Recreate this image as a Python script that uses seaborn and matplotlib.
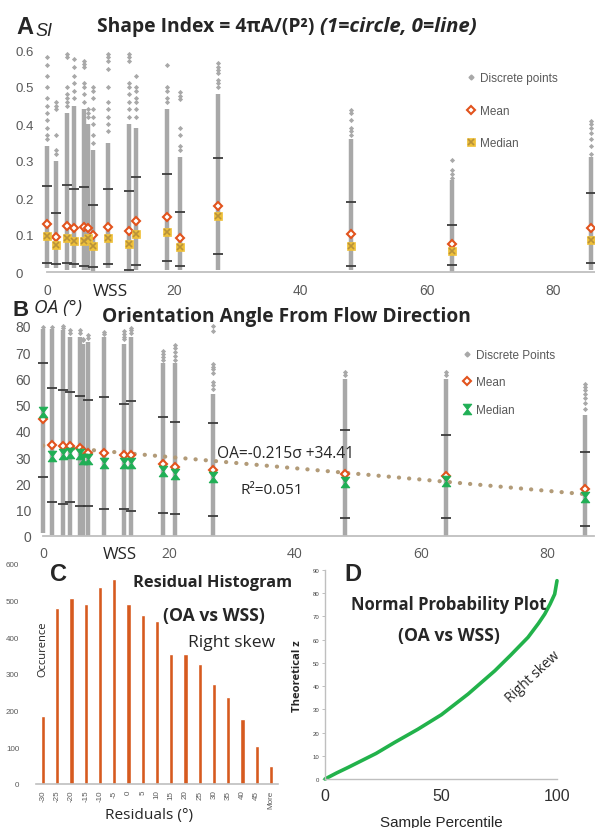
import numpy as np
import pandas as pd
import matplotlib
matplotlib.use("Agg")
import matplotlib.pyplot as plt
import seaborn as sns
from matplotlib.path import Path
from matplotlib.lines import Line2D

# ---------------- data ----------------
WSS = [0.0, 1.4, 3.2, 4.3, 5.8, 6.4, 7.2, 9.7, 12.9, 14.0, 19.0, 21.0, 27.0, 48.0, 64.0, 86.0]

# Panel A : shape index
SI_MIN = [0.01, 0.01, 0.005, 0.01, 0.005, 0.005, 0.0, 0.01, 0.0, 0.005, 0.005, 0.005, 0.005, 0.005, 0.0, 0.005]
SI_DENSE_TOP = [0.34, 0.30, 0.43, 0.45, 0.44, 0.40, 0.33, 0.35, 0.40, 0.39, 0.44, 0.31, 0.48, 0.36, 0.25, 0.31]
SI_SPARSE = [
    [0.58, 0.56, 0.53, 0.50, 0.47, 0.45, 0.43, 0.41, 0.39, 0.37, 0.36],
    [0.46, 0.45, 0.44, 0.37, 0.33, 0.32],
    [0.59, 0.58, 0.50, 0.48, 0.47, 0.46, 0.45],
    [0.576, 0.555, 0.53, 0.51, 0.49, 0.47],
    [0.571, 0.563, 0.555, 0.51, 0.50, 0.48, 0.46],
    [0.44, 0.43, 0.42],
    [0.50, 0.49, 0.47, 0.44, 0.42, 0.40, 0.37, 0.35],
    [0.589, 0.58, 0.57, 0.55, 0.50, 0.46, 0.44, 0.42, 0.40, 0.38],
    [0.589, 0.58, 0.57, 0.51, 0.50, 0.48, 0.46, 0.44, 0.42],
    [0.53, 0.50, 0.49, 0.47, 0.46, 0.44, 0.42],
    [0.56, 0.50, 0.49, 0.47, 0.46],
    [0.486, 0.477, 0.468, 0.39, 0.37, 0.34, 0.33],
    [0.564, 0.555, 0.547, 0.537, 0.52, 0.51, 0.50],
    [0.439, 0.43, 0.41, 0.39, 0.38, 0.37],
    [0.304, 0.275, 0.265, 0.255],
    [0.409, 0.40, 0.39, 0.375, 0.36, 0.34, 0.32],
]
SI_UPPER = [0.233, 0.160, 0.235, 0.223, 0.229, np.nan, 0.180, 0.223, 0.220, 0.256, 0.265, 0.161, 0.308, 0.188, 0.127, 0.213]
SI_LOWER = [0.024, 0.021, 0.025, 0.022, 0.017, np.nan, 0.014, 0.021, 0.006, 0.019, 0.030, 0.017, 0.050, 0.017, 0.019, 0.024]
SI_MEAN = [0.130, 0.094, 0.125, 0.119, 0.122, 0.118, 0.099, 0.122, 0.112, 0.139, 0.150, 0.091, 0.179, 0.103, 0.075, 0.120]
SI_MEDIAN = [0.096, 0.073, 0.091, 0.085, 0.085, 0.091, 0.071, 0.091, 0.077, 0.103, 0.107, 0.068, 0.152, 0.071, 0.056, 0.086]
SI_TICKS = [0, 0.1, 0.2, 0.3, 0.4, 0.5, 0.6]
SI_TICKLABELS = ["0", "0.1", "0.2", "0.3", "0.4", "0.5", "0.6"]

# Panel B : orientation angle
OA_MIN = [1.0, 0.5, 0, 0, 0, 0, 0, 0, 0, 0, 0, 0, 0, 0, 0, 0]
OA_DENSE_TOP = [79, 79, 78.5, 76, 76, 73, 74, 76, 73, 76, 66, 66, 54, 60, 60, 46]
OA_SPARSE = [
    [79.6], [79.6], [80, 79.2], [78.4, 77.5], [78.4, 77.5], [75.2, 74.5], [76.5, 75.5],
    [77.8, 77], [78, 77, 76, 75], [79.1, 78.3, 77.5], [70.6, 69.4, 68.2, 67.2],
    [72.7, 71.5, 70.2, 68.5, 67.2], [80, 78, 65.5, 64.5, 63.5, 62, 58.5, 57.5, 56],
    [62.6, 61.5], [62.3, 61.3], [57.9, 56.8, 55.5, 54.2, 52.5, 50.5, 48.5],
]
OA_UPPER = [65.9, 56.4, 55.5, 54.9, 53.3, np.nan, 52.0, 52.9, 50.3, 51.6, 45.5, 43.3, 43.0, 40.4, 38.5, 31.9]
OA_LOWER = [22.3, 13.1, 12.2, 12.8, 11.6, np.nan, 11.6, 10.1, 10.1, 9.7, 8.7, 8.4, 7.5, 6.9, 6.9, 3.9]
OA_MEAN = [44.6, 34.8, 34.4, 34.4, 33.5, 32.5, 31.8, 31.8, 30.8, 30.8, 27.4, 26.1, 25.3, 23.8, 22.9, 17.9]
OA_MEDIAN = [47.1, 30.6, 31.2, 31.8, 31.2, 29.3, 29.3, 27.7, 28.0, 28.0, 24.8, 23.5, 22.4, 20.7, 21.0, 14.7]
FIT_SLOPE = -0.215
FIT_INTERCEPT = 34.41
OA_TICKS = [0, 10, 20, 30, 40, 50, 60, 70, 80]
WSS_TICKS = [0, 20, 40, 60, 80]

# Panel C : residual histogram
RES_BINS = ["-30", "-25", "-20", "-15", "-10", "-5", "0", "5", "10", "15", "20", "25", "30", "35", "40", "45", "More"]
RES_COUNT = [185, 480, 508, 490, 538, 558, 490, 460, 445, 355, 355, 327, 272, 238, 178, 105, 48]

# Panel D : normal probability plot
PCT = [0, 5, 10, 15.8, 22, 30.1, 40, 50.2, 61.7, 73.2, 80, 87.5, 92, 94.7, 97, 99, 100]
THEO_Z = [0, 2.6, 5.0, 7.9, 11.0, 15.8, 21.4, 27.7, 36.6, 46.6, 53.3, 61.0, 67.0, 71.0, 75.3, 79.6, 85.4]

# ---------------- style ----------------
sns.set_theme(style="white")
plt.rcParams["font.family"] = ["Open Sans", "DejaVu Sans"]

GRAY = "#A8A8A8"
DASH = "#3C3C3C"
RED = "#E2531D"
GOLD = "#EFC038"
GOLD_X = "#B8923A"
GREEN = "#1FAF55"
DGREEN = "#22B24B"
BAR = "#D65A1F"
TAN = "#B29B78"
TICKC = "#595959"
SPINE = "#BFBFBF"
ARIAL = ["Liberation Sans", "DejaVu Sans"]

W, H = 595, 829
fig = plt.figure(figsize=(W / 100, H / 100), dpi=100)
renderer = fig.canvas.get_renderer()


def ax_px(l, t, r, b):
    return fig.add_axes([l / W, 1 - b / H, (r - l) / W, (b - t) / H])


def fit(x0, x1, yc, s, **kw):
    t = fig.text(x0 / W, 1 - yc / H, s, ha="left", va="center", fontsize=10, **kw)
    bb = t.get_window_extent(renderer)
    t.set_fontsize(10 * (x1 - x0) / bb.width)
    return t


def fit_v(xc, y0, y1, s, **kw):
    t = fig.text(xc / W, 1 - (y0 + y1) / 2 / H, s, ha="center", va="center",
                 rotation=90, fontsize=10, **kw)
    bb = t.get_window_extent(renderer)
    t.set_fontsize(10 * (y1 - y0) / bb.height)
    return t


def letter(x, yc, s, size):
    return fig.text(x / W, 1 - yc / H, s, ha="left", va="center", fontsize=size,
                    fontweight="bold", family=ARIAL)


def sparse_frame(xs, lists, name):
    rows = [(x, v) for x, vals in zip(xs, lists) for v in vals]
    return pd.DataFrame(rows, columns=["WSS", name])


hourglass = Path([(-0.8, 1), (0.8, 1), (-0.8, -1), (0.8, -1), (-0.8, 1)],
                 [Path.MOVETO, Path.LINETO, Path.LINETO, Path.LINETO, Path.CLOSEPOLY])

# ---------------- Panel A ----------------
axA = ax_px(47, 51, 594.5, 273)
axA.vlines(WSS, SI_MIN, SI_DENSE_TOP, color=GRAY, lw=3.2, zorder=1, clip_on=False)
dfA = sparse_frame(WSS, SI_SPARSE, "SI")
sns.scatterplot(data=dfA, x="WSS", y="SI", marker="D", s=7, color=GRAY, linewidth=0,
                ax=axA, legend=False, clip_on=False, zorder=2)
axA.scatter(WSS, SI_UPPER, marker="_", s=55, color=DASH, linewidth=1.3, zorder=3, clip_on=False)
axA.scatter(WSS, SI_LOWER, marker="_", s=55, color=DASH, linewidth=1.3, zorder=3, clip_on=False)
mA, = axA.plot(WSS, SI_MEAN, ls="none", marker="D", ms=4.0, mfc="white", mec=RED, mew=1.5,
               zorder=5, clip_on=False)
sqA, = axA.plot(WSS, SI_MEDIAN, ls="none", marker="s", ms=5.8, mfc=GOLD, mec=GOLD, mew=0.5,
                zorder=6, clip_on=False)
xA, = axA.plot(WSS, SI_MEDIAN, ls="none", marker="x", ms=4.6, mec=GOLD_X, mew=1.2,
               zorder=7, clip_on=False)
axA.set_xlim(0, 86.5)
axA.set_ylim(0, 0.6)
axA.set_yticks(SI_TICKS)
axA.set_yticklabels(SI_TICKLABELS)
axA.set_xticks(WSS_TICKS)
axA.set_xlabel("")
axA.set_ylabel("")
axA.tick_params(axis="y", length=0, pad=23, labelsize=9.5, labelcolor=TICKC)
for lab in axA.get_yticklabels():
    lab.set_ha("left")
    lab.set_fontfamily("Liberation Sans")
axA.tick_params(axis="x", length=0, pad=8, labelsize=10, labelcolor=TICKC)
for lab in axA.get_xticklabels():
    lab.set_fontfamily("Liberation Sans")
sns.despine(ax=axA, left=True)
axA.spines["bottom"].set_color(SPINE)
axA.spines["bottom"].set_linewidth(1.3)

gA = Line2D([], [], ls="none", marker="D", ms=2.5, mfc=GRAY, mec=GRAY)
legA = axA.legend([gA, mA, (sqA, xA)], ["Discrete points", "Mean", "Median"],
                  loc="upper left", bbox_to_anchor=(466 / W, 1 - 73 / H),
                  bbox_transform=fig.transFigure, frameon=False,
                  labelspacing=1.75, handlelength=0.9, handletextpad=0.25,
                  borderpad=0, borderaxespad=0,
                  prop={"family": "Liberation Sans", "size": 8.5})
for t in legA.get_texts():
    t.set_color(TICKC)

# ---------------- Panel B ----------------
axB = ax_px(43, 327, 594.3, 537)
axB.vlines(WSS, OA_MIN, OA_DENSE_TOP, color=GRAY, lw=3.2, zorder=1, clip_on=False)
dfB = sparse_frame(WSS, OA_SPARSE, "OA")
sns.scatterplot(data=dfB, x="WSS", y="OA", marker="D", s=7, color=GRAY, linewidth=0,
                ax=axB, legend=False, clip_on=False, zorder=2)
axB.scatter(WSS, OA_UPPER, marker="_", s=55, color=DASH, linewidth=1.3, zorder=3, clip_on=False)
axB.scatter(WSS, OA_LOWER, marker="_", s=55, color=DASH, linewidth=1.3, zorder=3, clip_on=False)
fit_x = np.array([WSS[0], WSS[-1]])
axB.plot(fit_x, FIT_SLOPE * fit_x + FIT_INTERCEPT, color=TAN, lw=3.0,
         ls=(0, (0.05, 2.4)), dash_capstyle="round", zorder=4)
mB, = axB.plot(WSS, OA_MEAN, ls="none", marker="D", ms=4.0, mfc="white", mec=RED, mew=1.5,
               zorder=5, clip_on=False)
gB_med, = axB.plot(WSS, OA_MEDIAN, ls="none", marker=hourglass, ms=7.5, mfc=GREEN, mec=GREEN,
                   mew=0.8, zorder=6, clip_on=False)
axB.set_xlim(0, 87.5)
axB.set_ylim(0, 80)
axB.set_yticks(OA_TICKS)
axB.set_xticks(WSS_TICKS)
axB.set_xlabel("")
axB.set_ylabel("")
axB.tick_params(axis="y", length=0, pad=8.5, labelsize=10, labelcolor=TICKC)
for lab in axB.get_yticklabels():
    lab.set_fontfamily("Liberation Sans")
axB.tick_params(axis="x", length=0, pad=7.5, labelsize=10, labelcolor=TICKC)
sns.despine(ax=axB, left=True)
axB.spines["bottom"].set_color(SPINE)
axB.spines["bottom"].set_linewidth(1.3)

gBp = Line2D([], [], ls="none", marker="D", ms=2.5, mfc=GRAY, mec=GRAY)
legB = axB.legend([gBp, mB, gB_med], ["Discrete Points", "Mean", "Median"],
                  loc="upper left", bbox_to_anchor=(462 / W, 1 - 350 / H),
                  bbox_transform=fig.transFigure, frameon=False,
                  labelspacing=1.3, handlelength=0.9, handletextpad=0.25,
                  borderpad=0, borderaxespad=0,
                  prop={"family": "Liberation Sans", "size": 8.5})
for t in legB.get_texts():
    t.set_color(TICKC)

# ---------------- Panel C ----------------
axC = ax_px(35.9, 565, 278, 785)
dfC = pd.DataFrame({"bin": RES_BINS, "count": RES_COUNT})
sns.barplot(data=dfC, x="bin", y="count", color=BAR, saturation=1, width=0.3, ax=axC)
axC.set_xlim(-0.5, len(RES_BINS) - 0.5)
axC.set_ylim(0, 600)
axC.set_yticks([0, 100, 200, 300, 400, 500, 600])
axC.set_xlabel("")
axC.set_ylabel("")
axC.tick_params(axis="y", length=0, pad=12, labelsize=5.8, labelcolor=TICKC)
axC.tick_params(axis="x", length=0, pad=4, labelsize=5.8, labelcolor=TICKC, labelrotation=90)
for lab in axC.get_yticklabels() + axC.get_xticklabels():
    lab.set_fontfamily("Liberation Sans")
sns.despine(ax=axC, left=True)
axC.spines["bottom"].set_color(SPINE)
axC.spines["bottom"].set_linewidth(1.2)

# ---------------- Panel D ----------------
axD = ax_px(325, 571, 557, 780)
sns.lineplot(x=PCT, y=THEO_Z, color=DGREEN, lw=2.6, ax=axD, clip_on=False)
axD.set_xlim(0, 100)
axD.set_ylim(0, 90)
axD.set_yticks(list(range(0, 91, 10)))
axD.set_xticks([0, 50, 100])
axD.set_xlabel("")
axD.set_ylabel("")
axD.tick_params(axis="y", length=2.5, width=0.7, color=SPINE, pad=1.5, labelsize=4.3,
                labelcolor="#404040", left=True)
axD.tick_params(axis="x", length=0, pad=6.5, labelsize=11.5, labelcolor="#303030")
for lab in axD.get_yticklabels() + axD.get_xticklabels():
    lab.set_fontfamily("Liberation Sans")
sns.despine(ax=axD)
for sp in ("left", "bottom"):
    axD.spines[sp].set_color(SPINE)
    axD.spines[sp].set_linewidth(1.0)

# ---------------- texts ----------------
letter(16, 28, "A", 17)
fit(35, 52, 31, "SI", fontstyle="italic", family=ARIAL)
fit(97, 314, 27, "Shape Index = 4πA/(P²)", fontweight="bold")
fit(320, 477, 27, "(1=circle, 0=line)", fontweight="bold", fontstyle="italic")
fit(93, 128, 292, "WSS")

letter(12, 311, "B", 16)
fit(34, 82, 308, "OA (°)", fontstyle="italic")
fit(102, 470, 317, "Orientation Angle From Flow Direction", fontweight="bold")
fit(217, 354, 454, "OA=-0.215σ +34.41")
fit(240, 303, 490, "R²=0.051")
fit(103, 137, 555, "WSS")

letter(50, 575, "C", 17)
fit(133, 293, 583, "Residual Histogram", fontweight="bold")
fit(163, 265, 616, "(OA vs WSS)", fontweight="bold")
fit(188, 275, 643, "Right skew")
fit_v(43, 622, 677, "Occurence")
fit(105, 193, 816, "Residuals (°)")

letter(344, 575, "D", 17)
fit(351, 548, 605, "Normal Probability Plot", fontweight="bold")
fit(398, 500, 636, "(OA vs WSS)", fontweight="bold")
fit_v(297, 640, 712, "Theoretical z", fontweight="bold")
fit(380, 503, 823, "Sample Percentile", family=ARIAL)

rs = fig.text(533 / W, 1 - 677 / H, "Right skew", ha="center", va="center", fontsize=10,
              rotation_mode="anchor")
bb = rs.get_window_extent(renderer)
rs.set_fontsize(10 * 68 / bb.width)
rs.set_rotation(43)

fig.savefig("out.png", dpi=100)
